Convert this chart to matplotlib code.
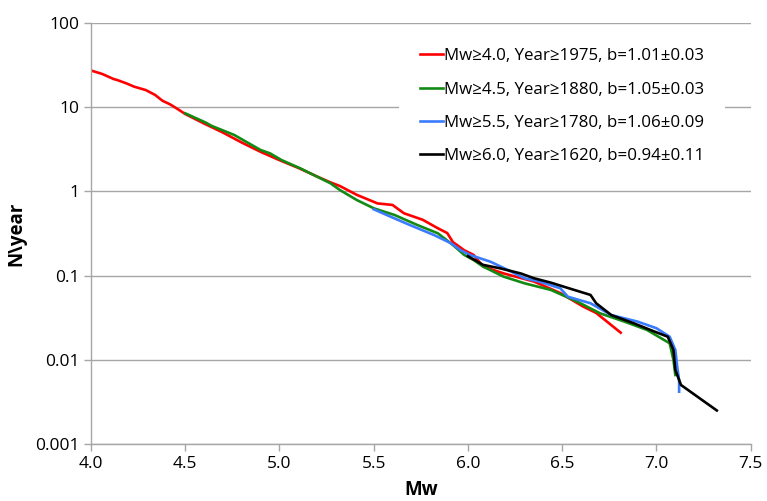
import numpy as np
import matplotlib
matplotlib.use("Agg")
import matplotlib.pyplot as plt
from matplotlib.ticker import FixedLocator, FixedFormatter, NullLocator

# cumulative annual rate N/year vs magnitude
mw_red = [4.00, 4.06, 4.12, 4.14, 4.19, 4.23, 4.29, 4.34, 4.38, 4.42, 4.46, 4.50,
          4.60, 4.70, 4.80, 4.90, 5.00, 5.10, 5.20, 5.27, 5.32, 5.41, 5.52, 5.60,
          5.66, 5.76, 5.84, 5.89, 5.92, 5.98, 6.03, 6.08, 6.19, 6.35, 6.49, 6.61,
          6.68, 6.81]
n_red = [27.3, 24.8, 21.6, 21.0, 19.1, 17.5, 16.0, 14.0, 11.9, 10.8, 9.5, 8.3,
         6.4, 5.0, 3.8, 2.95, 2.35, 1.9, 1.5, 1.28, 1.16, 0.91, 0.72, 0.69,
         0.55, 0.46, 0.365, 0.32, 0.25, 0.20, 0.176, 0.128, 0.106, 0.085, 0.062, 0.043,
         0.036, 0.021]

mw_green = [4.50, 4.61, 4.64, 4.76, 4.90, 4.95, 5.01, 5.11, 5.27, 5.32, 5.41, 5.50,
            5.61, 5.73, 5.84, 5.92, 5.98, 6.03, 6.08, 6.19, 6.30, 6.44, 6.58, 6.70,
            6.83, 6.95, 7.07, 7.09, 7.10]
n_green = [8.46, 6.55, 6.0, 4.68, 3.1, 2.83, 2.36, 1.88, 1.25, 1.04, 0.79, 0.63,
           0.525, 0.40, 0.318, 0.231, 0.176, 0.153, 0.128, 0.097, 0.081, 0.0675, 0.049, 0.0357,
           0.0284, 0.0226, 0.0157, 0.00995, 0.0066]

mw_blue = [5.50, 5.59, 5.69, 5.82, 5.91, 5.96, 6.01, 6.12, 6.21, 6.30, 6.38, 6.49,
           6.53, 6.65, 6.76, 6.90, 7.00, 7.07, 7.10, 7.11, 7.12, 7.12]
n_blue = [0.613, 0.50, 0.40, 0.303, 0.242, 0.201, 0.176, 0.146, 0.117, 0.093, 0.0847, 0.0706,
          0.0561, 0.0469, 0.034, 0.0284, 0.0237, 0.0188, 0.0131, 0.00828, 0.00575, 0.00418]

mw_black = [6.00, 6.08, 6.17, 6.28, 6.35, 6.44, 6.53, 6.65, 6.68, 6.76, 6.88, 6.99,
            7.06, 7.09, 7.10, 7.13, 7.32]
n_black = [0.17, 0.134, 0.122, 0.106, 0.093, 0.0824, 0.0713, 0.0589, 0.0469, 0.034, 0.0271, 0.0216,
           0.0188, 0.0131, 0.00757, 0.00502, 0.0025]

labels = ["Mw≥4.0, Year≥1975, b=1.01±0.03",
          "Mw≥4.5, Year≥1880, b=1.05±0.03",
          "Mw≥5.5, Year≥1780, b=1.06±0.09",
          "Mw≥6.0, Year≥1620, b=0.94±0.11"]
colors = ["#ff0000", "#138a13", "#3b7cff", "#000000"]

y_ticks = [0.001, 0.01, 0.1, 1, 10, 100]
y_tick_labels = ["0.001", "0.01", "0.1", "1", "10", "100"]
x_ticks = [4.0, 4.5, 5.0, 5.5, 6.0, 6.5, 7.0, 7.5]

plt.rcParams['font.family'] = ['Open Sans', 'DejaVu Sans']

fig = plt.figure(figsize=(7.67, 5.01), dpi=100)
ax = fig.add_axes([0.1186, 0.1138, 0.8602, 0.8403])

series = [(mw_red, n_red), (mw_green, n_green), (mw_blue, n_blue), (mw_black, n_black)]
for (x, y), c, lab in zip(series, colors, labels):
    ax.plot(x, y, color=c, lw=1.9, label=lab, solid_joinstyle='round')

ax.set_yscale('log')
ax.set_xlim(4.0, 7.5)
ax.set_ylim(0.001, 100)
ax.yaxis.set_major_locator(FixedLocator(y_ticks))
ax.yaxis.set_major_formatter(FixedFormatter(y_tick_labels))
ax.yaxis.set_minor_locator(NullLocator())
ax.set_xticks(x_ticks)
ax.set_xticklabels(["%.1f" % v for v in x_ticks])

ax.grid(axis='y', color='#a6a6a6', lw=1.0)
ax.set_axisbelow(True)
for s in ['top', 'right']:
    ax.spines[s].set_visible(False)
for s in ['left', 'bottom']:
    ax.spines[s].set_color('#a6a6a6')
    ax.spines[s].set_linewidth(1.0)
ax.tick_params(axis='both', color='#a6a6a6', length=5, width=1.0,
               labelsize=12.5, labelcolor='black', direction='out')

ax.set_xlabel("Mw", fontsize=13.5, fontweight='bold', labelpad=6)
ax.set_ylabel("N\\year", fontsize=13.5, fontweight='bold', labelpad=6)

leg = ax.legend(loc='center', bbox_to_anchor=(0.714, 0.802), fontsize=12.2,
                handlelength=1.38, handletextpad=0.05, labelspacing=1.02,
                frameon=True, facecolor='white', edgecolor='none', framealpha=1,
                borderpad=1.2)

fig.savefig("out.png", dpi=100)
